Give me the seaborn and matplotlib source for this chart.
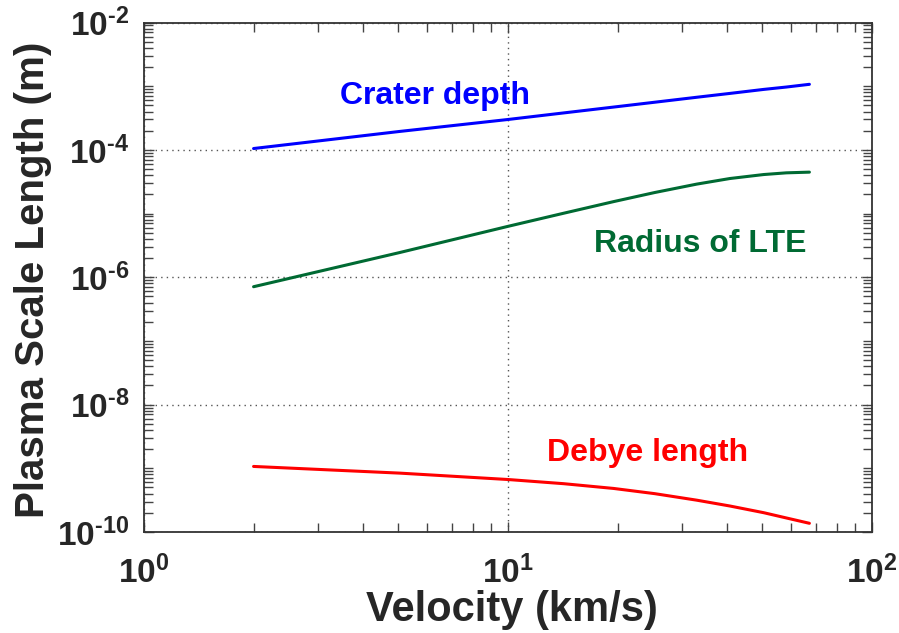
import numpy as np
import pandas as pd
import matplotlib
matplotlib.use("Agg")
import matplotlib.pyplot as plt
import matplotlib.ticker as mticker
import seaborn as sns

# ---- data ----
velocity = [2.0, 5.05, 10.0, 14.2, 19.5, 25.3, 33.0, 40.7, 50.4, 58.2, 67.3]
crater_depth = [1.05e-4, 1.95e-4, 3.0e-4, 3.8e-4, 4.7e-4, 5.6e-4, 6.7e-4, 7.7e-4, 8.9e-4, 9.7e-4, 1.07e-3]
radius_lte = [7.1e-7, 2.45e-6, 6.3e-6, 1.01e-5, 1.54e-5, 2.14e-5, 2.90e-5, 3.55e-5, 4.10e-5, 4.36e-5, 4.47e-5]
debye_length = [1.07e-9, 8.4e-10, 6.67e-10, 5.74e-10, 4.83e-10, 4.0e-10, 3.16e-10, 2.56e-10, 2.01e-10, 1.66e-10, 1.37e-10]

series_names = ["Crater depth", "Radius of LTE", "Debye length"]
series_colors = ["#0000ff", "#006a33", "#ff0000"]

HY = "\u2010"
x_major = [1, 10, 100]
x_major_labels = [r"$\mathbf{10^{0}}$", r"$\mathbf{10^{1}}$", r"$\mathbf{10^{2}}$"]
y_major = [1e-10, 1e-8, 1e-6, 1e-4, 1e-2]
y_major_labels = [r"$\mathbf{10^{" + HY + "10}}$", r"$\mathbf{10^{" + HY + "8}}$",
                  r"$\mathbf{10^{" + HY + "6}}$", r"$\mathbf{10^{" + HY + "4}}$",
                  r"$\mathbf{10^{" + HY + "2}}$"]

df = pd.DataFrame({
    "Velocity": velocity * 3,
    "Length": crater_depth + radius_lte + debye_length,
    "Series": [series_names[0]] * len(velocity) + [series_names[1]] * len(velocity)
              + [series_names[2]] * len(velocity),
})

sns.set_theme(style="white")
plt.rcParams["font.family"] = ["Liberation Sans", "DejaVu Sans"]
plt.rcParams["font.weight"] = "bold"
plt.rcParams["mathtext.fontset"] = "custom"
plt.rcParams["mathtext.rm"] = "Liberation Sans:bold"
plt.rcParams["mathtext.bf"] = "Liberation Sans:bold"
plt.rcParams["mathtext.it"] = "Liberation Sans:bold"

fig = plt.figure(figsize=(8.99, 6.33), dpi=100)
ax = fig.add_axes([144 / 899, 1 - 532 / 633, 728 / 899, (532 - 22.5) / 633])

sns.lineplot(data=df, x="Velocity", y="Length", hue="Series",
             palette=dict(zip(series_names, series_colors)),
             estimator=None, sort=False, linewidth=2.2, legend=False, ax=ax, zorder=3)

ax.set_xscale("log")
ax.set_yscale("log")
ax.set_xlim(1, 100)
ax.set_ylim(1e-10, 1e-2)

ax.xaxis.set_major_locator(mticker.FixedLocator(x_major))
ax.xaxis.set_major_formatter(mticker.FixedFormatter(x_major_labels))
ax.yaxis.set_major_locator(mticker.FixedLocator(y_major))
ax.yaxis.set_major_formatter(mticker.FixedFormatter(y_major_labels))
ax.xaxis.set_minor_locator(mticker.LogLocator(base=10, subs=np.arange(2, 10), numticks=100))
ax.yaxis.set_minor_locator(mticker.LogLocator(base=10, subs=np.arange(1, 10), numticks=100))
ax.xaxis.set_minor_formatter(mticker.NullFormatter())
ax.yaxis.set_minor_formatter(mticker.NullFormatter())

ax.tick_params(which="both", direction="in", top=True, right=True, bottom=True, left=True,
               color="#444444", width=1.0)
ax.tick_params(which="major", length=7)
ax.tick_params(which="minor", length=6.5)
ax.tick_params(axis="x", which="major", labelsize=24, pad=17)
ax.tick_params(axis="y", which="major", labelsize=24, pad=10.5)

for sp in ax.spines.values():
    sp.set_color("#333333")
    sp.set_linewidth(1.3)

ax.grid(True, which="major", linestyle=(0, (1, 3)), color="#555555", linewidth=1.0, zorder=1)
ax.grid(False, which="minor")

ax.set_xlabel("Velocity (km/s)", fontsize=30, fontweight="bold")
ax.set_ylabel("Plasma Scale Length (m)", fontsize=29, fontweight="bold")
ax.xaxis.set_label_coords(0.505, -0.113)
ax.yaxis.set_label_coords(-0.127, 0.495)

label_pos = [(3.45, 10 ** -3.28), (17.2, 10 ** -5.60), (12.8, 10 ** -8.89)]
for name, color, (lx, ly) in zip(series_names, series_colors, label_pos):
    ax.text(lx, ly, name, color=color, fontsize=23, fontweight="bold",
            ha="left", va="baseline", zorder=4)

fig.savefig("out.png", dpi=100)
